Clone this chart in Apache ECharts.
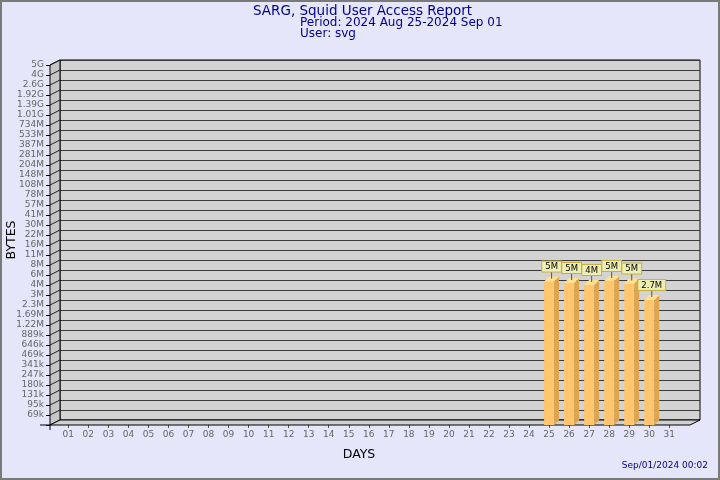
<!DOCTYPE html>
<html><head><meta charset="utf-8">
<script src="https://cdn.jsdelivr.net/npm/echarts@6/dist/echarts.min.js"></script>
<style>html,body{margin:0;padding:0;background:#e6e6fa}#c{width:720px;height:480px}</style>
</head><body><div id="c"></div>
<script>
// ---- data ----
const days = ['01','02','03','04','05','06','07','08','09','10','11','12','13','14','15','16','17','18','19','20','21','22','23','24','25','26','27','28','29','30','31'];
const yLabels = ['69k','95k','131k','180k','247k','341k','469k','646k','889k','1.22M','1.69M','2.3M','3M','4M','6M','8M','11M','16M','22M','30M','41M','57M','78M','108M','148M','204M','281M','387M','533M','734M','1.01G','1.39G','1.92G','2.6G','4G','5G'];
const barDays = ['25','26','27','28','29','30'];
const barBytes = [4.82e6, 4.61e6, 4.33e6, 4.92e6, 4.53e6, 2.69e6];

const BASE = 69000;               // lowest labelled tick
const STEPS = yLabels.length - 1; // 35
const R = Math.pow(BASE, 1 / STEPS); // ratio between neighbouring ticks
const YMIN = BASE / R, YMAX = BASE * Math.pow(R, STEPS);
const FONT = '"DejaVu Sans", sans-serif';

function tickIndex(v) { return Math.round(Math.log(v) / Math.log(R)) - STEPS; }
function fmtBytes(v) {
  const m = v / 1e6;
  return (m < 3 ? m.toFixed(1) : String(Math.round(m))) + 'M';
}

const chart = echarts.init(document.getElementById('c'), null, {renderer: 'canvas'});

const logAxis = (extra) => Object.assign({
  type: 'log', logBase: R, min: YMIN, max: YMAX, interval: 1, splitNumber: STEPS + 1
}, extra);

const option = {
  backgroundColor: '#e6e6fa',
  animation: false,
  grid: [
    {left: 60, top: 60, width: 640, height: 360, show: true, backgroundColor: '#d3d3d3', borderColor: '#000', borderWidth: 1},
    {left: 50, top: 65, width: 640, height: 360},
    {left: 58.3, top: 65, width: 621, height: 360}
  ],
  xAxis: [
    {gridIndex: 0, type: 'category', data: days, show: false},
    {gridIndex: 1, type: 'category', data: days, show: false},
    {gridIndex: 2, type: 'category', data: days,
      axisLine: {show: false},
      axisTick: {show: true, alignWithLabel: true, length: 3, lineStyle: {color: '#555'}},
      axisLabel: {color: '#666', fontSize: 9, fontFamily: FONT, margin: 5, interval: 0}}
  ],
  yAxis: [
    logAxis({gridIndex: 0, axisLine: {show: false}, axisTick: {show: false}, axisLabel: {show: false},
      splitLine: {show: true, lineStyle: {color: '#3a3a3a', width: 1}}}),
    logAxis({gridIndex: 1,
      axisLine: {show: true, lineStyle: {color: '#000'}},
      axisTick: {show: true, length: 4, lineStyle: {color: '#000'}},
      splitLine: {show: false},
      axisLabel: {color: '#666', fontSize: 9, fontFamily: FONT, margin: 6,
        formatter: (v) => { const k = tickIndex(v); return k >= 0 && k < yLabels.length ? yLabels[k] : ''; }}}),
    logAxis({gridIndex: 2, show: false})
  ],
  graphic: [
    {type: 'rect', shape: {x: 1, y: 1, width: 718, height: 478}, style: {fill: 'none', stroke: '#7a7a7a', lineWidth: 2}, z: 100},
    {type: 'text', x: 253, y: 11, style: {text: 'SARG, Squid User Access Report', fontSize: 13.5, fontFamily: FONT, fill: '#00008b', verticalAlign: 'middle'}},
    {type: 'text', x: 300, y: 23, style: {text: 'Period: 2024 Aug 25-2024 Sep 01', fontSize: 12, fontFamily: FONT, fill: '#00008b', verticalAlign: 'middle'}},
    {type: 'text', x: 300, y: 34, style: {text: 'User: svg', fontSize: 12, fontFamily: FONT, fill: '#00008b', verticalAlign: 'middle'}},
    {type: 'text', x: 12, y: 240, rotation: Math.PI / 2, style: {text: 'BYTES', x: 0, y: 0, fontSize: 12.5, fontFamily: FONT, fill: '#000', align: 'center', verticalAlign: 'middle'}},
    {type: 'text', x: 359, y: 455, style: {text: 'DAYS', fontSize: 12.5, fontFamily: FONT, fill: '#000', align: 'center', verticalAlign: 'middle'}},
    {type: 'text', x: 708, y: 466, style: {text: 'Sep/01/2024 00:02', fontSize: 9, fontFamily: FONT, fill: '#00008b', align: 'right', verticalAlign: 'middle'}}
  ],
  series: [
    { // left wall, floor and tick connectors (3D frame)
      type: 'custom', xAxisIndex: 0, yAxisIndex: 0, z: 1, silent: true,
      data: [[0, BASE]],
      renderItem(params, api) {
        const cs = params.coordSys;
        const L = cs.x, T = cs.y, B = cs.y + cs.height, Rr = cs.x + cs.width;
        const dx = 10, dy = 5;
        const kids = [
          {type: 'polygon', shape: {points: [[L - dx, T + dy], [L, T], [L, B], [L - dx, B + dy]]},
            style: {fill: '#c6c6c6', stroke: '#000', lineWidth: 1}},
          {type: 'polygon', shape: {points: [[L - dx, B + dy], [L, B], [Rr, B], [Rr - dx, B + dy]]},
            style: {fill: '#d0d0d0', stroke: '#000', lineWidth: 1}},
          {type: 'line', shape: {x1: L - dx - 10, y1: B + dy, x2: L - dx, y2: B + dy}, style: {stroke: '#000', lineWidth: 1}},
          {type: 'line', shape: {x1: L - dx, y1: B + dy, x2: L - dx, y2: B + dy + 5}, style: {stroke: '#000', lineWidth: 1}}
        ];
        for (let k = 0; k < yLabels.length; k++) {
          const y = api.coord([0, BASE * Math.pow(R, k)])[1];
          kids.push({type: 'line', shape: {x1: L - dx, y1: y + dy, x2: L, y2: y}, style: {stroke: '#222', lineWidth: 1}});
        }
        return {type: 'group', children: kids};
      }
    },
    { // 3D bars with value labels
      type: 'custom', xAxisIndex: 2, yAxisIndex: 2, z: 5, silent: true,
      data: barDays.map((d, i) => [d, barBytes[i]]),
      renderItem(params, api) {
        const xi = api.value(0), v = api.value(1);
        const top = api.coord([xi, v]);
        const base = api.coord([xi, YMIN]);
        const w = 10, d = 5;
        const x0 = top[0] - w / 2, x1 = top[0] + w / 2, ty = top[1], by = base[1];
        const cx = top[0] + d / 2;
        return {type: 'group', children: [
          {type: 'rect', shape: {x: x0, y: ty, width: w, height: by - ty}, style: {fill: '#ffc66e'}},
          {type: 'polygon', shape: {points: [[x1, ty], [x1 + d, ty - d], [x1 + d, by - d], [x1, by]]}, style: {fill: '#dfa54e'}},
          {type: 'polygon', shape: {points: [[x0, ty], [x0 + d, ty - d], [x1 + d, ty - d], [x1, ty]]}, style: {fill: '#ffe08c'}},
          {type: 'line', shape: {x1: cx, y1: ty - 3, x2: cx, y2: ty - 10}, style: {stroke: '#555', lineWidth: 1}},
          {type: 'text', x: cx, y: ty - 10, style: {text: fmtBytes(v), fontSize: 8.5, fontFamily: FONT, fill: '#000',
            align: 'center', verticalAlign: 'bottom', backgroundColor: '#eeeeb2', borderColor: '#c8b040', borderWidth: 1, padding: [1, 3, 0, 3]}}
        ]};
      }
    }
  ]
};
chart.setOption(option);
</script></body></html>
